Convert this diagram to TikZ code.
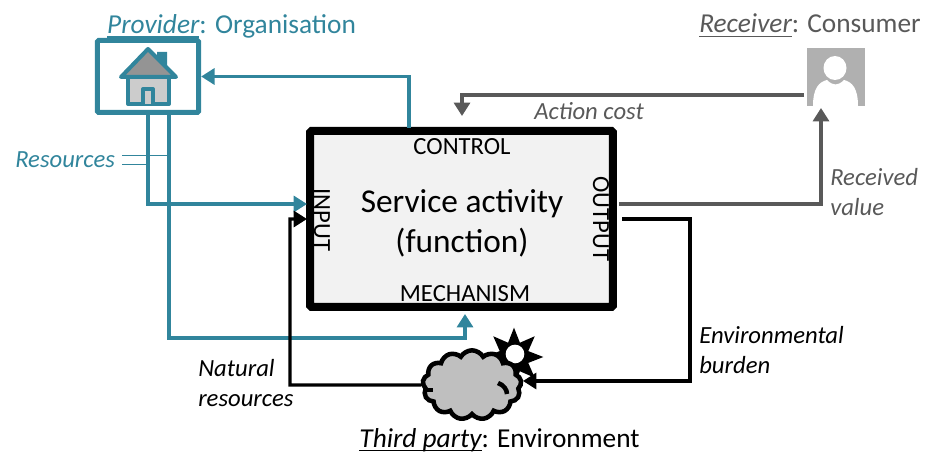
\documentclass[tikz,border=0pt]{standalone}
\usepackage{fontspec}
\setmainfont{Carlito}
\usetikzlibrary{arrows.meta,shapes.symbols,shapes.geometric}
\definecolor{teal1}{HTML}{31859C}
\definecolor{grey1}{HTML}{595959}
\definecolor{iconfill}{HTML}{B0B0B0}
\newcommand{\rolename}[1]{\setbox0\hbox{\itshape #1}\rlap{\vrule width\wd0 height -2.1pt depth 3.1pt}\box0}
\tikzset{
    tealline/.style={teal1,line width=2.3pt},
    greyline/.style={grey1,line width=2.3pt},
    blackline/.style={black,line width=2.3pt},
    tip/.style={-{Triangle[length=10pt,width=12pt]}},
    label/.style={font=\fontsize{18.5}{22.5}\selectfont\itshape,align=left,inner sep=0pt},
    port/.style={font=\fontsize{18.5}{20}\selectfont,inner sep=0pt},
    title/.style={font=\fontsize{20.5}{24}\selectfont,inner sep=0pt,anchor=base}
}
\begin{document}
\begin{tikzpicture}[x=0.75pt,y=-0.75pt]
    \useasboundingbox (0,0) rectangle (936,452);

    %main box:
    \node[draw,fill=black!5,line width=6pt,rounded corners=1pt,minimum width=227pt,minimum height=132pt,inner sep=0pt] (activity) at (461.5,219) {};
    \node[inner sep=0pt,align=center,font=\fontsize{25}{30}\selectfont] (activitytext) at (462,223.5) {Service activity\\(function)};
    \node[port] (control) at (462,147) {CONTROL};
    \node[port] (mechanism) at (465,294) {MECHANISM};
    \node[port,rotate=-90] (input) at (322,220) {INPUT};
    \node[port,rotate=-90] (output) at (601,219) {OUTPUT};

    %provider:
    \node[draw=teal1,line width=3.75pt,rounded corners=1pt,minimum width=76pt,minimum height=54pt,inner sep=0pt] (provider) at (148,76.5) {};
    \node[title,teal1] (providertext) at (231.5,33.5) {\rolename{Provider}: Organisation};
    \begin{scope}[line join=round,line width=3pt,draw=teal1]
        \fill[teal1] (157,52) -- (167,52) -- (167,70) -- (157,62) -- cycle;
        \draw[fill=black!20] (128,77) rectangle (169,104);
        \draw[fill=black!42] (121,77) -- (148,49) -- (176,77) -- cycle;
        \draw[fill=black!20] (143,104) -- (143,89) -- (153,89) -- (153,104);
    \end{scope}

    %receiver:
    \node[title,grey1] (receivertext) at (810,33) {\rolename{Receiver}: Consumer};
    \node[fill=iconfill,minimum width=43pt,minimum height=43pt,inner sep=0pt] (receiver) at (836,77) {};
    \fill[white] (835,68) ellipse (11.5 and 12);
    \fill[white] (813,106) .. controls (813,88) and (819,82) .. (827,80) .. controls (833,86) and (838,86) .. (844,80) .. controls (852,82) and (858,88) .. (858,106) -- cycle;

    %third party:
    \node[title] (thirdtext) at (499.5,447) {\rolename{Third party}: Environment};
    \node[star,star points=8,star point ratio=1.9,fill=black,minimum size=44pt,inner sep=0pt] (sunrays) at (514,357) {};
    \node[circle,fill=white,minimum size=14pt,inner sep=0pt] (sun) at (515,354) {};
    \node[cloud,draw,fill=black!25,line width=3.4pt,cloud puffs=13,cloud puff arc=120,aspect=1.5,minimum width=74pt,minimum height=52pt,inner sep=0pt] (cloud) at (472,385) {};
    \draw[line width=3.4pt] (498,383) .. controls (504,385) and (507,390) .. (507,394);
    \draw[line width=3pt] (424,390) -- (433,390);

    %connectors:
    \coordinate (fromprov) at (148,113);
    \coordinate (fromprovb) at (169,113);
    \draw[tealline,tip] (fromprov) -- (148,204) -- (307,204);
    \draw[tealline,tip] (fromprovb) -- (169,338) -- (465,338) -- (465,314);
    \draw[tealline,tip] (409,128) -- (409,76.5) -- (provider.east);
    \draw[greyline,tip] (804,95) -- (462,95) -- (462,116);
    \draw[greyline,tip] (619,204) -- (821,204) -- (821,108);
    \draw[blackline,tip] (622,219) -- (690,219) -- (690,381) -- (523,381);
    \draw[blackline,tip] (cloud.west) -- (290,385) -- (290,219) -- (307,219);

    %labels:
    \node[label,teal1,anchor=west] (resources) at (15,160) {Resources};
    \draw[teal1,line width=.6pt] (122,155) -- (169,155) (122,164) -- (148,164);
    \node[label,grey1,anchor=west] (actioncost) at (534,111) {Action cost};
    \node[label,grey1,anchor=west] (received) at (830,192) {Received\\value};
    \node[label,anchor=west] (burden) at (699,350) {Environmental\\burden};
    \node[label,anchor=west] (natural) at (198,383) {Natural\\resources};

    \end{tikzpicture}
\end{document}
